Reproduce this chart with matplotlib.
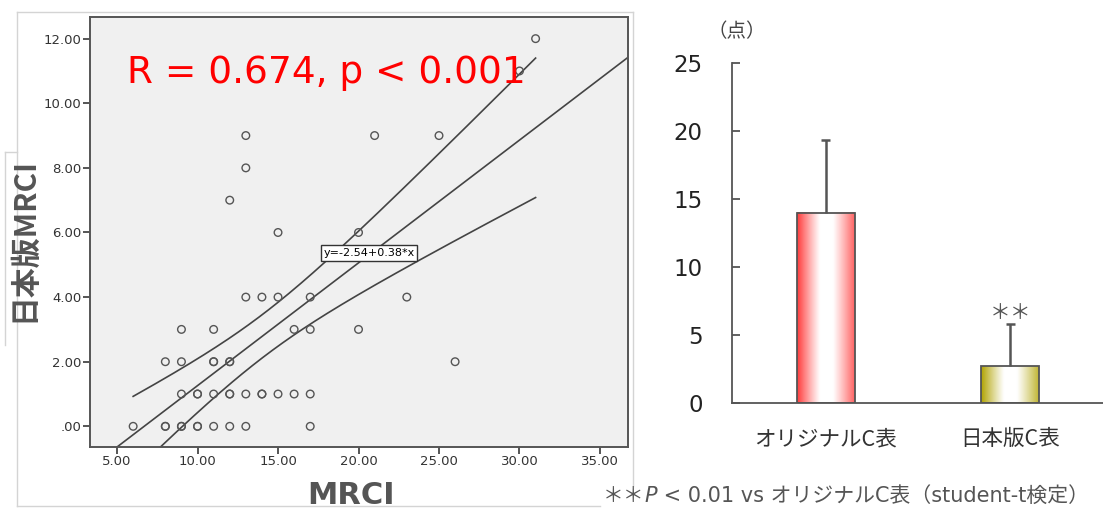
import numpy as np
import matplotlib.pyplot as plt
from matplotlib.lines import Line2D
from matplotlib.patches import Rectangle

W, H = 1103, 512

# scatter: MRCI (x) vs 日本版MRCI (y); darker circles are counted twice
mrci = [31, 30, 13, 21, 25, 13, 12, 15, 20,
        13, 14, 15, 17, 23,
        9, 11, 16, 17, 20,
        8, 9, 11, 11, 12, 12, 26,
        9, 10, 10, 11, 12, 12, 13, 14, 14, 15, 16, 17,
        6, 8, 8, 9, 9, 10, 10, 11, 12, 13, 17]
jmrci = [12, 11, 9, 9, 9, 8, 7, 6, 6,
         4, 4, 4, 4, 4,
         3, 3, 3, 3, 3,
         2, 2, 2, 2, 2, 2, 2,
         1, 1, 1, 1, 1, 1, 1, 1, 1, 1, 1, 1,
         0, 0, 0, 0, 0, 0, 0, 0, 0, 0, 0]
intercept, slope = -2.54, 0.38
t_crit = 2.012

# bar chart
cats = ['オリジナルC表', '日本版C表']
means = [14.0, 2.72]
sds = [5.35, 3.07]
bar_colors = ['#ff3a3a', '#b0a200']

cjk = 'Noto Sans CJK JP'
narrow = ['Liberation Sans Narrow', 'DejaVu Sans']


def px(x, y):
    return x / W, 1 - y / H


fig = plt.figure(figsize=(W / 100, H / 100), dpi=100)

# light boxes round the left panel
grey = '#d4d4d4'
for (x0, y0), (x1, y1) in [((17, 12), (633, 12)), ((17, 12), (17, 506)),
                           ((17, 506), (600, 506)), ((633, 12), (633, 486)),
                           ((5, 152), (5, 345)), ((5, 152), (17, 152))]:
    a, b = px(x0, y0)
    c, d = px(x1, y1)
    fig.add_artist(Line2D([a, c], [b, d], color=grey, lw=1, transform=fig.transFigure))
x0, y0 = px(6, 345)
fig.add_artist(Rectangle((x0, y0), 30 / W, 192 / H, facecolor='white',
                         edgecolor='none', transform=fig.transFigure))

# ---- scatter ----
ax = fig.add_axes([90 / W, 1 - 447 / H, 538 / W, 430 / H])
ax.set_facecolor('#f0f0f0')
for s in ax.spines.values():
    s.set_color('#555555')
    s.set_linewidth(1.4)

x = np.array(mrci, dtype=float)
y = np.array(jmrci, dtype=float)
ax.scatter(x, y, s=30, facecolors='none', edgecolors='#555555', linewidths=1.0, zorder=3)

n = len(x)
xbar = x.mean()
sxx = ((x - xbar) ** 2).sum()
resid = y - (intercept + slope * x)
s_err = np.sqrt((resid ** 2).sum() / (n - 2))
xs = np.linspace(x.min(), x.max(), 200)
fit = intercept + slope * xs
hw = t_crit * s_err * np.sqrt(1 / n + (xs - xbar) ** 2 / sxx)
ax.axline((0, intercept), slope=slope, color='#444444', lw=1.2)
ax.plot(xs, fit + hw, color='#444444', lw=1.2)
ax.plot(xs, fit - hw, color='#444444', lw=1.2)

ax.set_xlim(3.32, 36.74)
ax.set_ylim(-0.64, 12.67)
xt = [5, 10, 15, 20, 25, 30, 35]
ax.set_xticks(xt, ['%.2f' % v for v in xt], family=narrow, fontsize=9.5, color='#333333')
yt = [0, 2, 4, 6, 8, 10, 12]
ax.set_yticks(yt, ['.00'] + ['%.2f' % v for v in yt[1:]], family=narrow, fontsize=9.5, color='#333333')
ax.tick_params(length=5, width=1.4, color='#555555', pad=1)

ax.text(5.62, 10.94, 'R = 0.674, p < 0.001', color='red', fontsize=27,
        va='center', ha='left')
ax.text(20.65, 5.37, 'y=-2.54+0.38*x', family=narrow, fontsize=8, ha='center', va='center',
        bbox=dict(boxstyle='square,pad=0.25', facecolor='white', edgecolor='#333333', lw=1))

fig.text(*px(351, 495), 'MRCI', fontsize=22, fontweight='bold', color='#555555',
         ha='center', va='center')
fig.text(*px(23, 240), '日本版MRCI', family=[cjk, 'DejaVu Sans'], fontsize=21.5,
         fontweight='bold', color='#555555', rotation=90, ha='center', va='center')

# ---- bar chart ----
ax2 = fig.add_axes([732 / W, 1 - 403 / H, 1 - 732 / W, (403 - 63.3) / H])
bw = 0.314
t = np.linspace(0, 1, 256)
for i, (m, sd, col) in enumerate(zip(means, sds, bar_colors)):
    w = np.clip(1 - t / 0.4, 0, 1) ** 1.1 + 0.8 * np.clip((t - 0.62) / 0.38, 0, 1) ** 1.1
    rgb = np.array(plt.matplotlib.colors.to_rgb(col))
    img = (1 - w[:, None]) * np.ones(3) + w[:, None] * rgb
    ax2.imshow(img[None, :, :], extent=[i - bw / 2, i + bw / 2, 0, m], aspect='auto', zorder=1)
    ax2.bar(i, m, width=bw, fill=False, edgecolor='#555555', lw=1.3, zorder=2)
    ax2.errorbar(i, m + sd / 2, yerr=sd / 2, fmt='none', ecolor='#555555', elinewidth=1.8,
                 zorder=2)
    ax2.errorbar(i, m + sd, xerr=0.025, fmt='none', ecolor='#555555', elinewidth=1.8, zorder=2)
ax2.set_xlim(-0.508, 1.502)
ax2.set_ylim(0, 25)
ax2.text(1, 6.65, '＊＊', family=cjk, fontsize=15, color='#555555', ha='center', va='center')

for k in ['top', 'right']:
    ax2.spines[k].set_visible(False)
for k in ['left', 'bottom']:
    ax2.spines[k].set_color('#555555')
    ax2.spines[k].set_linewidth(1.3)
ax2.set_yticks([0, 5, 10, 15, 20, 25])
ax2.tick_params(axis='y', direction='in', length=6, width=1.3, color='#555555',
                pad=21, labelsize=16.5, labelcolor='#222222')
ax2.set_xticks([0, 1], cats, family=cjk, fontsize=15.5, color='#333333')
ax2.tick_params(axis='x', length=0, pad=18)

fig.text(*px(737, 32), '（点）', family=cjk, fontsize=14, color='#444444',
         ha='center', va='center')

# footnote in three pieces (italic P)
fig.canvas.draw()
r = fig.canvas.get_renderer()
fx, fy = px(603, 502)
parts = [('＊＊', dict(family=cjk)),
         ('P', dict(family='DejaVu Sans', style='italic')),
         (' < 0.01 vs オリジナルC表（student-t検定）', dict(family=['DejaVu Sans', cjk]))]
for txt, kw in parts:
    tt = fig.text(fx, fy, txt, fontsize=15, color='#555555', va='baseline', ha='left', **kw)
    bb = tt.get_window_extent(r)
    fx = bb.x1 / W

fig.savefig('out.png', dpi=100)
